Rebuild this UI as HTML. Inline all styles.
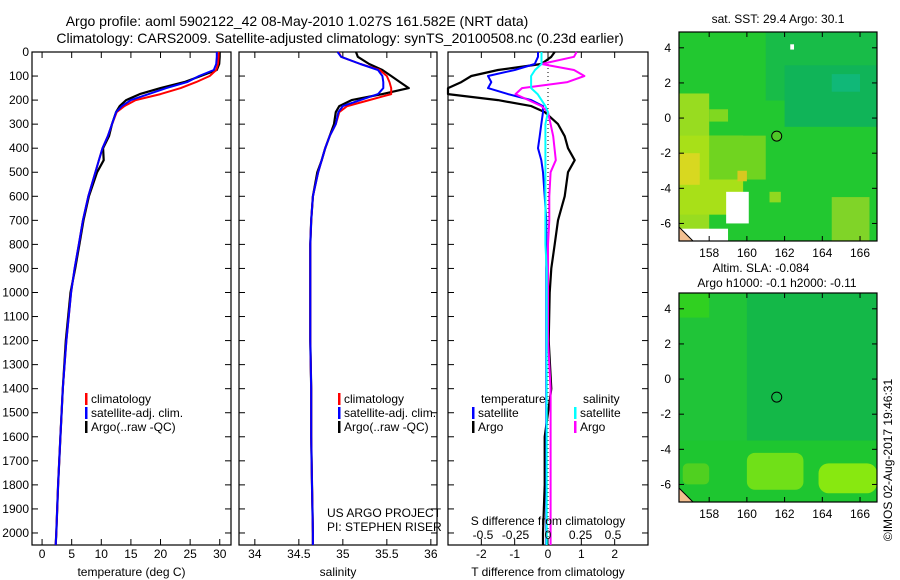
<!DOCTYPE html>
<html><head><meta charset="utf-8"><style>
html,body{margin:0;padding:0;background:#fff;}
svg{display:block;font-family:"Liberation Sans",sans-serif;}
text{font-size:12px;fill:#000;}
</style></head><body>
<svg id="fig" width="900" height="580" viewBox="0 0 900 580">
<text x="297" y="26" text-anchor="middle" style="font-size:14px">Argo profile: aoml 5902122_42 08-May-2010 1.027S 161.582E (NRT data)</text>
<text x="340" y="43" text-anchor="middle" style="font-size:14px">Climatology: CARS2009. Satellite-adjusted climatology: synTS_20100508.nc (0.23d earlier)</text>
<g id="p1"></g>
<g id="p2"></g>
<g id="p3"></g>
<g id="m1"></g>
<g id="m2"></g>
<text x="778" y="23" text-anchor="middle">sat. SST: 29.4  Argo: 30.1</text>
<text x="761" y="272" text-anchor="middle">Altim. SLA: -0.084</text>
<text x="777" y="287" text-anchor="middle">Argo h1000: -0.1 h2000: -0.11</text>
<text transform="translate(892,460) rotate(-90)" text-anchor="middle">©IMOS 02-Aug-2017 19:46:31</text>
</svg>
<script>
const depth=[0,20,50,75,100,125,150,175,200,225,250,300,350,400,450,500,600,700,800,900,1000,1200,1400,1600,1800,2000,2050];
const tempArgo=[30,30,29.9,29.5,26.8,24,20,16.5,14.2,13.1,12.5,11.8,11.3,10.3,10.4,9.3,7.9,7,6.3,5.6,4.8,4,3.5,3.1,2.7,2.4,2.3];
const tempClim=[29.8,29.8,29.7,29.4,28.3,26,23.4,20,15.8,13.9,12.6,11.8,11.1,10.2,9.6,9,7.8,6.9,6.2,5.5,4.9,4.1,3.5,3.1,2.7,2.4,2.3];
const tempSat=[29.5,29.5,29.4,29,26.5,24.5,21,18,15,13.5,12.5,11.8,11.1,10.2,9.6,9,7.8,6.9,6.2,5.5,4.9,4.1,3.5,3.1,2.7,2.4,2.3];
const salArgo=[35.15,35.17,35.3,35.45,35.55,35.65,35.75,35.45,35.1,34.96,34.92,34.9,34.85,34.8,34.76,34.71,34.66,34.64,34.63,34.63,34.63,34.63,34.64,34.64,34.65,34.66,34.66];
const salClim=[34.95,34.98,35.2,35.42,35.5,35.53,35.55,35.55,35.3,35.05,34.96,34.92,34.85,34.8,34.76,34.72,34.66,34.64,34.63,34.63,34.63,34.63,34.64,34.64,34.65,34.66,34.66];
const salSat=[34.94,34.98,35.2,35.4,35.45,35.46,35.46,35.4,35.2,35.0,34.95,34.92,34.85,34.8,34.76,34.72,34.66,34.64,34.63,34.63,34.63,34.63,34.64,34.64,34.65,34.66,34.66];
const dTArgo=[0.2,0.1,-0.2,-1.5,-2.3,-2.6,-3,-3,-1.5,-0.5,-0.1,0.3,0.5,0.6,0.8,0.6,0.5,0.3,0.2,0.1,0.05,0.02,0.1,-0.1,-0.1,-0.15,-0.15];
const dTSat=[-0.3,-0.3,-0.4,-1,-1.8,-1.7,-1.8,-1.2,-0.5,-0.15,-0.15,-0.2,-0.25,-0.3,-0.2,-0.15,-0.1,-0.05,-0.05,-0.05,-0.05,-0.05,-0.05,-0.05,-0.05,-0.05,-0.05];
const dSArgo=[0.22,0.2,-0.05,0.2,0.28,0.15,-0.2,-0.25,-0.15,-0.05,0,0.02,0.04,0.05,0.06,0.02,0.01,0.01,0,0,0,0,0.02,0.02,0.02,0.02,0.02];
const dSSat=[-0.05,-0.05,-0.05,-0.1,-0.13,-0.13,-0.13,-0.08,-0.05,-0.02,0,-0.02,-0.02,-0.02,-0.02,-0.02,-0.02,-0.02,-0.02,-0.01,-0.01,-0.01,-0.01,-0.01,-0.01,-0.01,-0.01];
const depthTicks=[0,100,200,300,400,500,600,700,800,900,1000,1100,1200,1300,1400,1500,1600,1700,1800,1900,2000];
const tempTicks=[0,5,10,15,20,25,30];
const salTicks=[34,34.5,35,35.5,36];
const dTTicks=[-2,-1,0,1,2];
const dSTicks=[-0.5,-0.25,0,0.25,0.5];
const lonTicks=[158,160,162,164,166];
const latTicks=[4,2,0,-2,-4,-6];
const argoLon=161.582, argoLat=-1.027;

const NS="http://www.w3.org/2000/svg";
function mk(p,tag,a,txt){const e=document.createElementNS(NS,tag);for(const k in a)e.setAttribute(k,a[k]);if(txt!==undefined)e.textContent=txt;p.appendChild(e);return e;}
const Y0=52,Y1=545;
const yD=d=>Y0+(d/2050)*(Y1-Y0);
function panel(g,x0,x1,xmin,xmax,xt,title,showY){
  const xs=v=>x0+(v-xmin)/(xmax-xmin)*(x1-x0);
  const r=mk(g,'rect',{x:x0,y:Y0,width:x1-x0,height:Y1-Y0,fill:'none',stroke:'#000','stroke-width':1.2});
  
  depthTicks.forEach(d=>{const y=yD(d);
    mk(g,'line',{x1:x0,x2:x0+6,y1:y,y2:y,stroke:'#000'});
    mk(g,'line',{x1:x1,x2:x1-6,y1:y,y2:y,stroke:'#000'});
    if(showY){const t=mk(g,'text',{x:x0-3,y:y+4,'text-anchor':'end'},String(d));}
  });
  xt.forEach(v=>{const x=xs(v);
    mk(g,'line',{x1:x,x2:x,y1:Y1,y2:Y1-6,stroke:'#000'});
    mk(g,'line',{x1:x,x2:x,y1:Y0,y2:Y0+6,stroke:'#000'});
    const t=mk(g,'text',{x:x,y:558,'text-anchor':'middle'},String(v));
  });
  const t=mk(g,'text',{x:(x0+x1)/2,y:576,'text-anchor':'middle'},title);
  
  return xs;
}
function line(g,xs,vals,col,w,name){
  const d=vals.map((v,i)=>(i?'L':'M')+xs(v).toFixed(1)+','+yD(depth[i]).toFixed(1)).join('');
  const p=mk(g,'path',{d:d,fill:'none',stroke:col,'stroke-width':w,'stroke-linejoin':'round'});
  
}
function legend(g,x,y,col,label){
  mk(g,'rect',{x:x,y:y-10,width:2.5,height:12,fill:col});
  const t=mk(g,'text',{x:x+6,y:y},label);
}
const p1=document.getElementById('p1'),p2=document.getElementById('p2'),p3=document.getElementById('p3');
const xs1=panel(p1,32,231,-1.7,31.9,tempTicks,'temperature (deg C)',true);
line(p1,xs1,tempArgo,'#000',2.2,'temp-argo-line');
line(p1,xs1,tempClim,'#f00',2,'temp-climatology-line');
line(p1,xs1,tempSat,'#00f',2,'temp-satellite-line');
legend(p1,85,403,'#f00','climatology');legend(p1,85,417,'#00f','satellite-adj. clim.');legend(p1,85,431,'#000','Argo(..raw -QC)');
const xs2=panel(p2,239,437,33.82,36.07,salTicks,'salinity',false);
line(p2,xs2,salArgo,'#000',2.2,'sal-argo-line');
line(p2,xs2,salClim,'#f00',2,'sal-climatology-line');
line(p2,xs2,salSat,'#00f',2,'sal-satellite-line');
legend(p2,338,403,'#f00','climatology');legend(p2,338,417,'#00f','satellite-adj. clim.');legend(p2,338,431,'#000','Argo(..raw -QC)');
mk(p2,'text',{x:327,y:517},'US ARGO PROJECT');mk(p2,'text',{x:327,y:531},'PI: STEPHEN RISER');
const xs3=panel(p3,448,648,-3.0,3.0,dTTicks,'T difference from climatology',false);
const xsS=v=>548+v*130;
mk(p3,'line',{x1:548,x2:548,y1:Y0,y2:Y1,stroke:'#000','stroke-dasharray':'1,3'});
line(p3,xs3,dTArgo,'#000',2.2,'dT-argo-line');
line(p3,xs3,dTSat,'#00f',2,'dT-satellite-line');
line(p3,xsS,dSArgo,'#f0f',2,'dS-argo-line');
line(p3,xsS,dSSat,'#0ff',2,'dS-satellite-line');
dSTicks.forEach(v=>{const t=mk(p3,'text',{x:xsS(v),y:539,'text-anchor':'middle'},String(v));});
mk(p3,'text',{x:548,y:525,'text-anchor':'middle'},'S difference from climatology');
mk(p3,'text',{x:481,y:403},'temperature');mk(p3,'text',{x:583,y:403},'salinity');
legend(p3,472,417,'#00f','satellite');legend(p3,472,431,'#000','Argo');
legend(p3,574,417,'#0ff','satellite');legend(p3,574,431,'#f0f','Argo');

function map(g,y0,y1,base,blobs,circleFill){
  const x0=679,x1=877;
  const lx=v=>x0+(v-156.4)/(166.9-156.4)*(x1-x0);
  const ly=v=>y0+(4.9-v)/(4.9+7.0)*(y1-y0);
  const cid='clip'+y0;
  const cp=mk(g,'clipPath',{id:cid});mk(cp,'rect',{x:x0,y:y0,width:x1-x0,height:y1-y0});
  const gg=mk(g,'g',{'clip-path':'url(#'+cid+')'});
  mk(gg,'rect',{x:x0,y:y0,width:x1-x0,height:y1-y0,fill:base});
  blobs.forEach(b=>mk(gg,'rect',{x:lx(b[0]),y:ly(b[1]),width:lx(b[2])-lx(b[0]),height:ly(b[3])-ly(b[1]),fill:b[4],rx:b[5]||0}));
  mk(gg,'path',{d:`M${x0},${y1-14}L${x0+14},${y1}L${x0},${y1}Z`,fill:'#f4c090',stroke:'#000'});
  mk(g,'rect',{x:x0,y:y0,width:x1-x0,height:y1-y0,fill:'none',stroke:'#000','stroke-width':1.2});
  lonTicks.forEach(v=>{const x=lx(v);mk(g,'line',{x1:x,x2:x,y1:y1,y2:y1-5,stroke:'#000'});mk(g,'line',{x1:x,x2:x,y1:y0,y2:y0+5,stroke:'#000'});
    const t=mk(g,'text',{x:x,y:y1+16,'text-anchor':'middle'},String(v));});
  latTicks.forEach(v=>{const y=ly(v);mk(g,'line',{x1:x0,x2:x0+5,y1:y,y2:y,stroke:'#000'});mk(g,'line',{x1:x1,x2:x1-5,y1:y,y2:y,stroke:'#000'});
    const t=mk(g,'text',{x:x0-8,y:y+4,'text-anchor':'end'},String(v));});
  const c=mk(g,'circle',{cx:lx(argoLon),cy:ly(argoLat),r:5,fill:circleFill,stroke:'#000'});
  
}
map(document.getElementById('m1'),32,241,'#22c830',[
 [161,4.9,166.9,1,'#18bc48'],[162,3,166.9,-0.5,'#10b458'],[164.5,2.5,166,1.5,'#10b878'],
 [156.4,1.4,158,-7,'#98dc20'],[156.4,-1,159.8,-5.5,'#a8e018'],[156.4,-2,157.5,-3.8,'#d8d820'],
 [158,-1,161,-3.5,'#70d420'],[159.5,-3,160,-3.6,'#d8c820'],[164.5,-4.5,166.5,-7,'#80d428'],
 [161.2,-4.2,161.8,-4.8,'#90d820'],[158,0.5,159,-0.2,'#80d820'],
 [158.9,-4.2,160.1,-6,'#ffffff'],[156.4,-6.3,159,-7,'#ffffff'],[162.3,4.2,162.5,3.9,'#ffffff']
],'#50c828');
map(document.getElementById('m2'),293,502,'#14b848',[
 [156.4,4.9,160,-7,'#20c438'],[156.4,-3.5,166.9,-7,'#1ec630'],
 [160,-4.2,163,-6.3,'#70e018',8],[163.8,-4.8,166.9,-6.5,'#88e810',10],[156.6,-4.8,158,-6,'#50d020',5],
 [156.4,4.9,158,3.5,'#30d020']
],'#14b848');
</script>
</body></html>
